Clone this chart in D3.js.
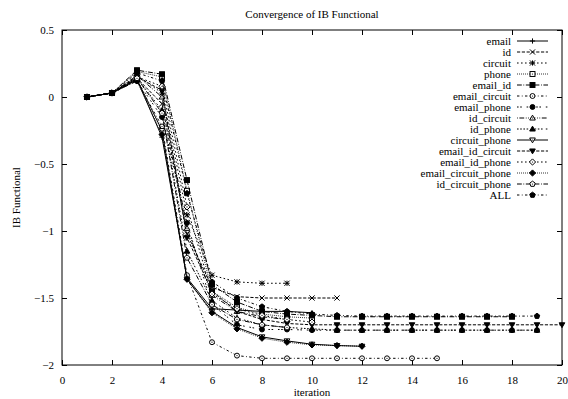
<!DOCTYPE html>
<html>
<head>
<meta charset="utf-8">
<script src="https://cdn.jsdelivr.net/npm/d3@7"></script>
<style>
  body { margin: 0; background: #fff; }
  svg { display: block; }
  svg text { font-family: "Liberation Serif", "DejaVu Serif", serif !important; fill: #000; }
</style>
</head>
<body>
<svg id="chart" width="568" height="399" font-family="Liberation Serif, DejaVu Serif, serif"></svg>
<script>
// Axis ticks
const xTicks = [0, 2, 4, 6, 8, 10, 12, 14, 16, 18, 20];
const yTicks = [0.5, 0, -0.5, -1, -1.5, -2];

// IB functional value per iteration (iteration numbers start at 1)
const email = [0, 0.03, 0.13, -0.30, -1.35, -1.58, -1.59, -1.60, -1.60, -1.61];
const id = [0, 0.03, 0.14, -0.05, -1.02, -1.42, -1.49, -1.50, -1.50, -1.50, -1.50];
const circuit = [0, 0.03, 0.16, 0.03, -0.88, -1.33, -1.38, -1.39, -1.39];
const phone = [0, 0.03, 0.19, 0.15, -0.70, -1.45, -1.57, -1.62, -1.64, -1.65];
const email_id = [0, 0.03, 0.20, 0.17, -0.62, -1.40, -1.53, -1.60, -1.62, -1.63, -1.64, -1.64, -1.64, -1.64, -1.64, -1.64, -1.64, -1.64];
const email_circuit = [0, 0.03, 0.12, -0.22, -1.33, -1.83, -1.93, -1.95, -1.95, -1.95, -1.95, -1.95, -1.95, -1.95, -1.95];
const email_phone = [0, 0.03, 0.12, -0.15, -0.94, -1.55, -1.70, -1.735, -1.735, -1.74, -1.74, -1.74, -1.74, -1.74, -1.74, -1.74, -1.74, -1.74, -1.74];
const id_circuit = [0, 0.03, 0.16, 0.00, -0.98, -1.48, -1.60, -1.64, -1.66];
const id_phone = [0, 0.03, 0.14, -0.10, -1.15, -1.52, -1.65, -1.70, -1.72, -1.73, -1.74, -1.74, -1.74, -1.74, -1.74, -1.74, -1.74, -1.74, -1.74];
const circuit_phone = [0, 0.03, 0.13, -0.25, -1.36, -1.60, -1.72, -1.79, -1.82, -1.845, -1.855, -1.86];
const email_id_circuit = [0, 0.03, 0.15, 0.05, -1.05, -1.45, -1.60, -1.66, -1.69, -1.70, -1.70, -1.70, -1.70, -1.70, -1.70, -1.70, -1.70, -1.70, -1.70, -1.70];
const email_id_phone = [0, 0.03, 0.15, 0.08, -0.82, -1.47, -1.58, -1.63, -1.66, -1.68];
const email_circuit_phone = [0, 0.03, 0.12, -0.28, -1.36, -1.61, -1.73, -1.80, -1.83, -1.85, -1.855, -1.86];
const id_circuit_phone = [0, 0.03, 0.14, -0.12, -1.20, -1.55, -1.66, -1.70, -1.72];
const ALL = [0, 0.03, 0.18, 0.12, -0.72, -1.38, -1.50, -1.565, -1.60, -1.62, -1.63, -1.635, -1.635, -1.635, -1.635, -1.635, -1.635, -1.635, -1.635];

const seriesNames = ["email", "id", "circuit", "phone", "email_id", "email_circuit",
  "email_phone", "id_circuit", "id_phone", "circuit_phone", "email_id_circuit",
  "email_id_phone", "email_circuit_phone", "id_circuit_phone", "ALL"];
const seriesValues = [email, id, circuit, phone, email_id, email_circuit,
  email_phone, id_circuit, id_phone, circuit_phone, email_id_circuit,
  email_id_phone, email_circuit_phone, id_circuit_phone, ALL];

// gnuplot-style monochrome dash patterns (cycled) and point shapes
const dashUnits = [[], [4, 2], [2, 3], [1, 1.5], [6, 2, 1, 2], [3, 3, 1, 3],
  [2, 2, 2, 6], [1, 2, 6, 2, 1, 2], [2, 2, 2, 2, 2, 2, 2, 4]];
const dashScale = 0.8;
const shapes = ["plus", "cross", "star", "box", "boxF", "circle", "circleF",
  "triU", "triUF", "triD", "triDF", "dia", "diaF", "pent", "pentF"];

const FONT = "'Liberation Serif', 'DejaVu Serif', serif";
const svg = d3.select("#chart");
const L = 62, R = 562, T = 30, B = 365;
const x = d3.scaleLinear().domain([0, 20]).range([L, R]);
const y = d3.scaleLinear().domain([-2, 0.5]).range([B, T]);

// Title and axis labels
svg.append("text").attr("x", (L + R) / 2).attr("y", 18)
  .attr("text-anchor", "middle").style("font-size", "11px").style("font-family", FONT)
  .text("Convergence of IB Functional");
svg.append("text").attr("x", (L + R) / 2).attr("y", 396)
  .attr("text-anchor", "middle").style("font-size", "11px").style("font-family", FONT)
  .text("iteration");
svg.append("text").attr("transform", `translate(20,${(T + B) / 2}) rotate(-90)`)
  .attr("text-anchor", "middle").style("font-size", "11px").style("font-family", FONT)
  .text("IB Functional");

// Axes with inward ticks on all four sides
const fmtY = d => (d === 0 ? "0" : d3.format("")(d));
const gB = svg.append("g").attr("transform", `translate(0,${B})`)
  .call(d3.axisBottom(x).tickValues(xTicks).tickSizeInner(-5).tickSizeOuter(0).tickPadding(11).tickFormat(d3.format("d")));
const gT = svg.append("g").attr("transform", `translate(0,${T})`)
  .call(d3.axisTop(x).tickValues(xTicks).tickSizeInner(-5).tickSizeOuter(0).tickFormat(""));
const gL = svg.append("g").attr("transform", `translate(${L},0)`)
  .call(d3.axisLeft(y).tickValues(yTicks).tickSizeInner(-5).tickSizeOuter(0).tickPadding(8).tickFormat(fmtY));
const gR = svg.append("g").attr("transform", `translate(${R},0)`)
  .call(d3.axisRight(y).tickValues(yTicks).tickSizeInner(-5).tickSizeOuter(0).tickFormat(""));
[gB, gT, gL, gR].forEach(g => {
  g.attr("font-family", FONT).attr("font-size", 11);
  g.select(".domain").remove();
  g.selectAll("line").attr("stroke", "#000").attr("stroke-width", 1);
  g.selectAll("text").style("font-size", "11px").style("font-family", FONT).attr("fill", "#000");
});
svg.append("rect").attr("x", L).attr("y", T).attr("width", R - L).attr("height", B - T)
  .attr("fill", "none").attr("stroke", "#000").attr("stroke-width", 1);

// Point symbol drawing
const hs = 2.6;
function polyPts(cx, cy, n, r, rot) {
  const p = [];
  for (let k = 0; k < n; k++) {
    const a = rot + k * 2 * Math.PI / n;
    p.push([cx + r * Math.cos(a), cy + r * Math.sin(a)]);
  }
  return p.map(q => q.join(",")).join(" ");
}
function marker(g, shape, cx, cy) {
  const s = hs;
  const line = (x1, y1, x2, y2) => g.append("line").attr("x1", x1).attr("y1", y1)
    .attr("x2", x2).attr("y2", y2).attr("stroke", "#000").attr("stroke-width", 1);
  const dot = () => g.append("circle").attr("cx", cx).attr("cy", cy).attr("r", 0.6).attr("fill", "#000");
  const filled = shape.endsWith("F");
  const base = filled ? shape.slice(0, -1) : shape;
  let el = null;
  if (shape === "plus") { line(cx - s, cy, cx + s, cy); line(cx, cy - s, cx, cy + s); return; }
  if (shape === "cross") { line(cx - s, cy - s, cx + s, cy + s); line(cx - s, cy + s, cx + s, cy - s); return; }
  if (shape === "star") {
    line(cx - s, cy, cx + s, cy); line(cx, cy - s, cx, cy + s);
    line(cx - s, cy - s, cx + s, cy + s); line(cx - s, cy + s, cx + s, cy - s); return;
  }
  if (base === "box") {
    el = g.append("rect").attr("x", cx - s * 0.95).attr("y", cy - s * 0.95)
      .attr("width", s * 1.9).attr("height", s * 1.9);
  } else if (base === "circle") {
    el = g.append("circle").attr("cx", cx).attr("cy", cy).attr("r", s * 0.95);
  } else if (base === "triU") {
    el = g.append("polygon").attr("points", polyPts(cx, cy + 0.4, 3, s * 1.25, -Math.PI / 2));
  } else if (base === "triD") {
    el = g.append("polygon").attr("points", polyPts(cx, cy - 0.4, 3, s * 1.25, Math.PI / 2));
  } else if (base === "dia") {
    el = g.append("polygon").attr("points", polyPts(cx, cy, 4, s * 1.2, 0));
  } else if (base === "pent") {
    el = g.append("polygon").attr("points", polyPts(cx, cy, 5, s * 1.1, -Math.PI / 2));
  }
  el.attr("stroke", "#000").attr("stroke-width", 1).attr("fill", filled ? "#000" : "#fff");
  if (!filled) dot();
}

// Series lines and points
const lineGen = d3.line().x((d, i) => x(i + 1)).y(d => y(d));
seriesValues.forEach((vals, si) => {
  const g = svg.append("g").attr("class", "series");
  const dash = dashUnits[si % 9].map(v => v * dashScale).join(",");
  g.append("path").attr("d", lineGen(vals)).attr("fill", "none")
    .attr("stroke", "#000").attr("stroke-width", 1)
    .attr("stroke-dasharray", dash || null);
  vals.forEach((v, i) => marker(g, shapes[si], x(i + 1), y(v)));
});

// Legend
const legX = 511, sx1 = 517, sx2 = 548, legY0 = 41, legDy = 11;
seriesNames.forEach((name, si) => {
  const g = svg.append("g").attr("class", "legend");
  const ly = legY0 + si * legDy;
  g.append("text").attr("x", legX).attr("y", ly).attr("dy", "0.35em")
    .attr("text-anchor", "end").style("font-size", "11px").style("font-family", FONT).text(name);
  const dash = dashUnits[si % 9].map(v => v * dashScale).join(",");
  g.append("line").attr("x1", sx1).attr("y1", ly).attr("x2", sx2).attr("y2", ly)
    .attr("stroke", "#000").attr("stroke-width", 1).attr("stroke-dasharray", dash || null);
  marker(g, shapes[si], (sx1 + sx2) / 2, ly);
});
</script>
</body>
</html>
